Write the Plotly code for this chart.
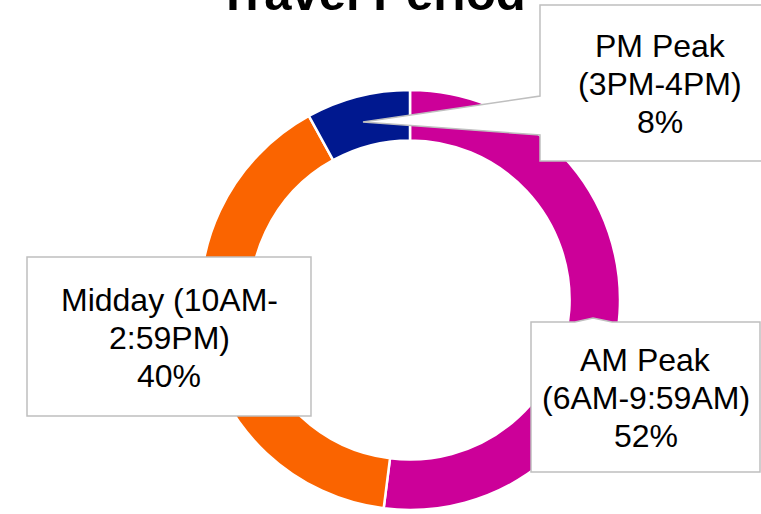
import plotly.graph_objects as go

W, H = 761, 514

periods = ["AM Peak", "Midday", "PM Peak"]
shares = [52, 40, 8]
colours = ["#CC0099", "#FA6400", "#00188F"]
callout_lines = [
    ["AM Peak", "(6AM-9:59AM)", "52%"],
    ["Midday (10AM-", "2:59PM)", "40%"],
    ["PM Peak", "(3PM-4PM)", "8%"],
]
# callout boxes in pixels: left, top, right, bottom
callout_boxes = [
    (531, 322, 760, 472),
    (27, 257, 311, 416),
    (540, 5, 780, 161),
]

FONT = "Arial, Liberation Sans, sans-serif"
BORDER = {"color": "#BFBFBF", "width": 1.5}
LINE_GAP = 38


def px(x):
    return x / W


def py(y):
    return 1 - y / H


def path_of(pts):
    return "M " + " L ".join(f"{px(a):.5f},{py(b):.5f}" for a, b in pts) + " Z"


# donut placed by its centre and radius in pixels
cx, cy, r = 410, 300, 210

fig = go.Figure(
    go.Pie(
        labels=periods,
        values=shares,
        hole=0.76,
        sort=False,
        direction="clockwise",
        rotation=0,
        marker={"colors": colours, "line": {"color": "white", "width": 2.5}},
        textinfo="none",
        hoverinfo="none",
        showlegend=False,
        domain={"x": [px(cx - r), px(cx + r)], "y": [py(cy + r), py(cy - r)]},
    )
)

shapes = []
annotations = []
for name, lines, (x0, y0, x1, y1) in zip(periods, callout_lines, callout_boxes):
    if name == "PM Peak":
        # box with a long wedge pointing into the slice
        pts = [(x0, y0), (x1, y0), (x1, y1), (x0, y1), (x0, 135), (363, 122), (x0, 96)]
    elif name == "AM Peak":
        # small bump on the top edge
        pts = [(x0, y0), (575, y0), (593, y0 - 4), (612, y0), (x1, y0), (x1, y1), (x0, y1)]
    else:
        pts = [(x0, y0), (x1, y0), (x1, y1), (x0, y1)]
    shapes.append(dict(
        type="path", path=path_of(pts), xref="paper", yref="paper",
        fillcolor="white", line=BORDER, layer="above",
    ))
    mid = (y0 + y1) / 2 + 1
    for k, line in enumerate(lines):
        annotations.append(dict(
            text=line, xref="paper", yref="paper",
            x=px((x0 + x1) / 2), y=py(mid + (k - 1) * LINE_GAP),
            xanchor="center", yanchor="middle", showarrow=False,
            font={"family": FONT, "size": 32, "color": "black"},
        ))

annotations.append(dict(
    text="<b>Travel Period</b>", xref="paper", yref="paper",
    x=px(372), y=py(-7), xanchor="center", yanchor="middle", showarrow=False,
    font={"family": FONT, "size": 49, "color": "black"},
))

fig.update_layout(
    width=W, height=H,
    margin={"l": 0, "r": 0, "t": 0, "b": 0},
    paper_bgcolor="white", plot_bgcolor="white",
    shapes=shapes, annotations=annotations,
)

# drop the default page margin so the figure sits at the window's corner
fig.write_html(
    "out.html",
    config={"displayModeBar": False},
    post_script="document.body.style.margin = '0';",
)
